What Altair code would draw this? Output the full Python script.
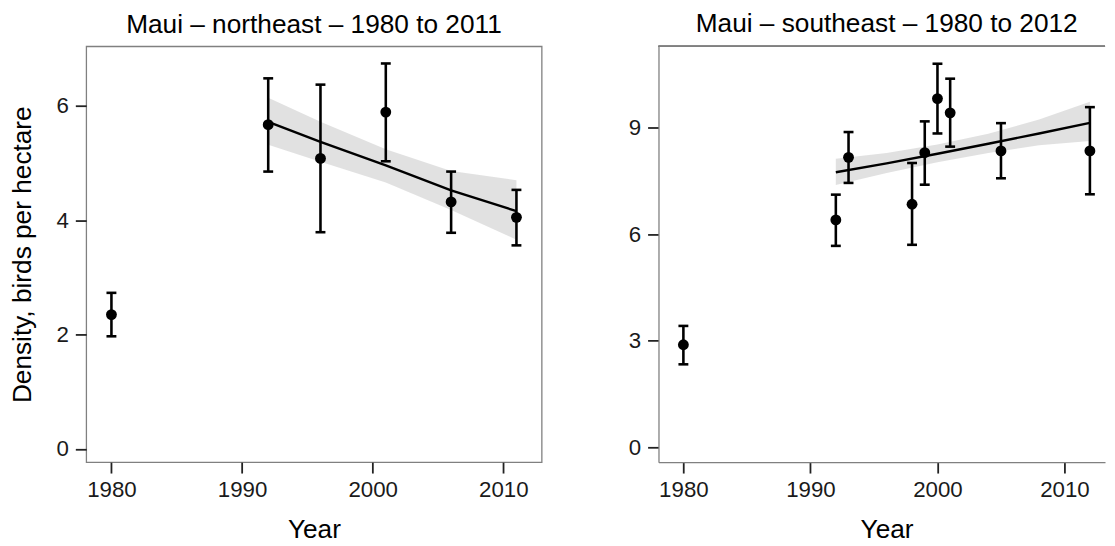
import altair as alt
import pandas as pd

FONT = "Liberation Sans"

# ---- Maui northeast ----
ne_year = [1980, 1992, 1996, 2001, 2006, 2011]
ne_density = [2.35, 5.67, 5.08, 5.89, 4.32, 4.05]
ne_lower = [1.97, 4.85, 3.79, 5.03, 3.78, 3.56]
ne_upper = [2.73, 6.48, 6.37, 6.74, 4.85, 4.53]
ne_fit_year = [1992, 1996, 2001, 2006, 2011]
ne_fit = [5.72, 5.37, 4.96, 4.52, 4.16]
ne_fit_lower = [5.32, 5.02, 4.66, 4.18, 3.66]
ne_fit_upper = [6.14, 5.72, 5.24, 4.86, 4.70]

# ---- Maui southeast ----
se_year = [1980, 1992, 1993, 1998, 1999, 2000, 2001, 2005, 2012]
se_density = [2.89, 6.40, 8.16, 6.84, 8.29, 9.81, 9.41, 8.34, 8.34]
se_lower = [2.34, 5.67, 7.44, 5.70, 7.39, 8.83, 8.46, 7.57, 7.12]
se_upper = [3.42, 7.11, 8.87, 8.00, 9.17, 10.79, 10.37, 9.12, 9.57]
se_fit_year = [1992, 1996, 2000, 2004, 2008, 2012]
se_fit = [7.74, 7.99, 8.26, 8.54, 8.83, 9.13]
se_fit_lower = [7.38, 7.72, 8.02, 8.28, 8.50, 8.62]
se_fit_upper = [8.12, 8.28, 8.52, 8.82, 9.22, 9.72]

x_ticks = [1980, 1990, 2000, 2010]
ne_y_ticks = [0, 2, 4, 6]
se_y_ticks = [0, 3, 6, 9]

ne_title = "Maui \u2013 northeast \u2013 1980 to 2011"
se_title = "Maui \u2013 southeast \u2013 1980 to 2012"
y_title = "Density, birds per hectare"

FRAME = "#808080"
PLOT_H = 420


def panel(title, years, dens, lo, hi, fy, fit, flo, fhi,
          xdom, ydom, yticks, width, ytitle, right_side):
    pts = pd.DataFrame({"year": years, "density": dens, "lower": lo, "upper": hi})
    fitdf = pd.DataFrame({"year": fy, "fit": fit, "lo": flo, "hi": fhi})

    xscale = alt.Scale(domain=xdom, nice=False, zero=False)
    yscale = alt.Scale(domain=ydom, nice=False, zero=False)

    xaxis_kw = dict(values=x_ticks, format="d", title="Year", titlePadding=16,
                    labelPadding=6, domain=right_side, domainColor=FRAME,
                    domainWidth=1.3, titleX=230.4 if right_side else width / 2)
    yaxis_kw = dict(values=yticks, labelPadding=7, domain=right_side,
                    domainColor=FRAME, domainWidth=1.3)
    if ytitle:
        yaxis_kw.update(title=ytitle, titlePadding=20)
    else:
        yaxis_kw.update(title=None)
    xaxis = alt.Axis(**xaxis_kw)
    yaxis = alt.Axis(**yaxis_kw)

    X = alt.X("year:Q", scale=xscale, axis=xaxis)

    def Y(field):
        return alt.Y(field, type="quantitative", scale=yscale, axis=yaxis)

    band = alt.Chart(fitdf).mark_area(color="#dcdcdc", opacity=0.85).encode(
        x=X, y=Y("lo"), y2="hi"
    )
    line = alt.Chart(fitdf).mark_line(color="black", strokeWidth=2.4).encode(
        x=X, y=Y("fit")
    )
    bars = alt.Chart(pts).mark_rule(color="black", strokeWidth=2.6).encode(
        x=X, y=Y("lower"), y2="upper"
    )
    cap_lo = alt.Chart(pts).mark_tick(
        color="black", orient="horizontal", size=10, thickness=2.6, opacity=1
    ).encode(x=X, y=Y("lower"))
    cap_hi = alt.Chart(pts).mark_tick(
        color="black", orient="horizontal", size=10, thickness=2.6, opacity=1
    ).encode(x=X, y=Y("upper"))
    dots = alt.Chart(pts).mark_circle(color="black", size=120, opacity=1).encode(
        x=X, y=Y("density")
    )

    layers = [band, line, bars, cap_lo, cap_hi, dots]
    if right_side:
        top_edge = alt.Chart(pts).mark_rule(color=FRAME, strokeWidth=1.3).encode(
            x=alt.value(0), x2=alt.value(width), y=alt.value(0)
        )
        layers.append(top_edge)

    tparams = dict(text=title, frame="group", anchor="middle", fontSize=26.5,
                   font=FONT, fontWeight="normal", color="black", offset=8)
    if right_side:
        tparams.update(dx=5)

    props = dict(width=width, height=PLOT_H, title=alt.TitleParams(**tparams))
    if right_side:
        props.update(view=alt.ViewBackground(stroke="transparent"))
    return alt.layer(*layers).properties(**props)


left = panel(ne_title, ne_year, ne_density, ne_lower, ne_upper,
             ne_fit_year, ne_fit, ne_fit_lower, ne_fit_upper,
             [1978.07, 2012.93], [-0.23, 7.04], ne_y_ticks, 460, y_title, False)
right = panel(se_title, se_year, se_density, se_lower, se_upper,
              se_fit_year, se_fit, se_fit_lower, se_fit_upper,
              [1978.04, 2013.19], [-0.41, 11.28], se_y_ticks, 451, None, True)

chart = alt.hconcat(left, right, spacing=85).properties(
    padding={"left": 0, "top": 0, "right": 0, "bottom": 0},
    background="white",
).configure_view(
    stroke=FRAME, strokeWidth=1.3
).configure_axis(
    labelFont=FONT, labelFontSize=22.5, labelColor="#1a1a1a",
    titleFont=FONT, titleFontSize=26.5, titleFontWeight="normal", titleColor="black",
    tickColor="#222222", tickWidth=1.8, tickSize=11, grid=False,
)

chart.save("out.html", embed_options={"renderer": "svg", "actions": False})
